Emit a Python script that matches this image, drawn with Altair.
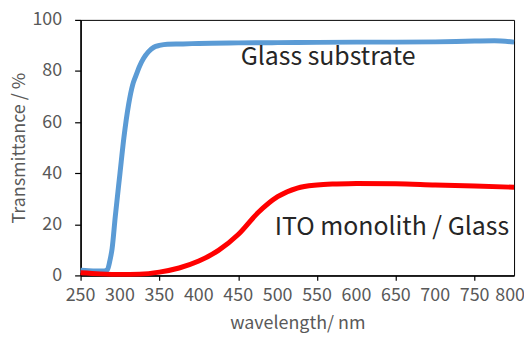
import altair as alt
import pandas as pd

glass_wl = [250, 260, 270, 280, 284, 287, 290, 294, 300, 305, 311, 316, 320, 325, 330, 336, 343, 350, 360, 380, 400, 450, 500, 550, 600, 650, 700, 750, 775, 800]
glass_t = [2.0, 1.8, 1.7, 1.7, 2.2, 5.5, 10.5, 23.0, 40.0, 54.0, 67.0, 74.5, 78.0, 82.0, 85.0, 87.5, 89.3, 90.0, 90.5, 90.6, 90.8, 91.0, 91.1, 91.2, 91.3, 91.3, 91.4, 91.7, 91.8, 91.3]

ito_wl = [250, 275, 300, 325, 350, 375, 400, 425, 450, 475, 500, 525, 550, 575, 600, 650, 700, 750, 800]
ito_t = [1.0, 0.6, 0.4, 0.5, 1.3, 2.9, 5.6, 9.8, 16.0, 24.5, 30.8, 34.2, 35.4, 35.8, 36.0, 35.9, 35.4, 35.0, 34.5]

x_ticks = [250, 300, 350, 400, 450, 500, 550, 600, 650, 700, 750, 800]
y_ticks = [0, 20, 40, 60, 80, 100]

labels = ["Glass substrate", "ITO monolith / Glass"]
label_wl = [564, 645]
label_t = [82.2, 16.0]

FONT = "Noto Sans CJK JP"
GREY = "#595959"

df = pd.concat([
    pd.DataFrame({"wl": glass_wl, "t": glass_t, "s": labels[0]}),
    pd.DataFrame({"wl": ito_wl, "t": ito_t, "s": labels[1]}),
])

xscale = alt.Scale(domain=[250, 800], nice=False, zero=False)

x = alt.X("wl:Q", scale=xscale,
          axis=alt.Axis(values=x_ticks, title="wavelength/ nm", labels=False,
                        grid=False, domainColor="black", domainWidth=1.5,
                        tickColor="black", tickSize=5, tickWidth=1.2,
                        titleColor=GREY, titleFont=FONT,
                        titleFontSize=18, titleFontWeight="normal", titlePadding=34))
y = alt.Y("t:Q", scale=alt.Scale(domain=[0, 100], nice=False),
          axis=alt.Axis(values=y_ticks, title="Transmittance / %",
                        grid=False, domainColor="black", domainWidth=1.5,
                        tickColor="black", tickSize=6, tickWidth=1.2,
                        labelOverlap=False, labelFlush=False,
                        labelColor=GREY, labelFont=FONT, labelFontSize=18,
                        labelPadding=13, titleColor=GREY, titleFont=FONT,
                        titleFontSize=18, titleFontWeight="normal", titlePadding=3))

lines = alt.Chart(df).mark_line(strokeWidth=5, interpolate="monotone").encode(
    x=x, y=y,
    color=alt.Color("s:N", scale=alt.Scale(domain=labels, range=["#5B9BD5", "#FF0000"]), legend=None),
)

xlab = alt.Chart(pd.DataFrame({"v": x_ticks[:-1]})).mark_text(
    font=FONT, fontSize=18, color=GREY, align="center", baseline="alphabetic"
).encode(x=alt.X("v:Q", scale=xscale), y=alt.value(283), text=alt.Text("v:Q", format="d"))

xlab_last = alt.Chart(pd.DataFrame({"v": x_ticks[-1:]})).mark_text(
    font=FONT, fontSize=18, color=GREY, align="center", baseline="alphabetic", dx=-4
).encode(x=alt.X("v:Q", scale=xscale), y=alt.value(283), text=alt.Text("v:Q", format="d"))

ann = alt.Chart(pd.DataFrame({"wl": label_wl, "t": label_t, "txt": labels})).mark_text(
    font=FONT, fontSize=25, color="#262626", align="center", baseline="alphabetic"
).encode(x="wl:Q", y="t:Q", text="txt:N")

chart = (lines + xlab + xlab_last + ann).properties(
    width=436, height=257,
    autosize=alt.AutoSizeParams(type="none"),
    padding={"left": 73, "top": 11, "right": 10, "bottom": 62},
).configure_view(stroke="black", strokeWidth=1)

chart.save("out.html", embed_options={"renderer": "svg", "actions": False})
